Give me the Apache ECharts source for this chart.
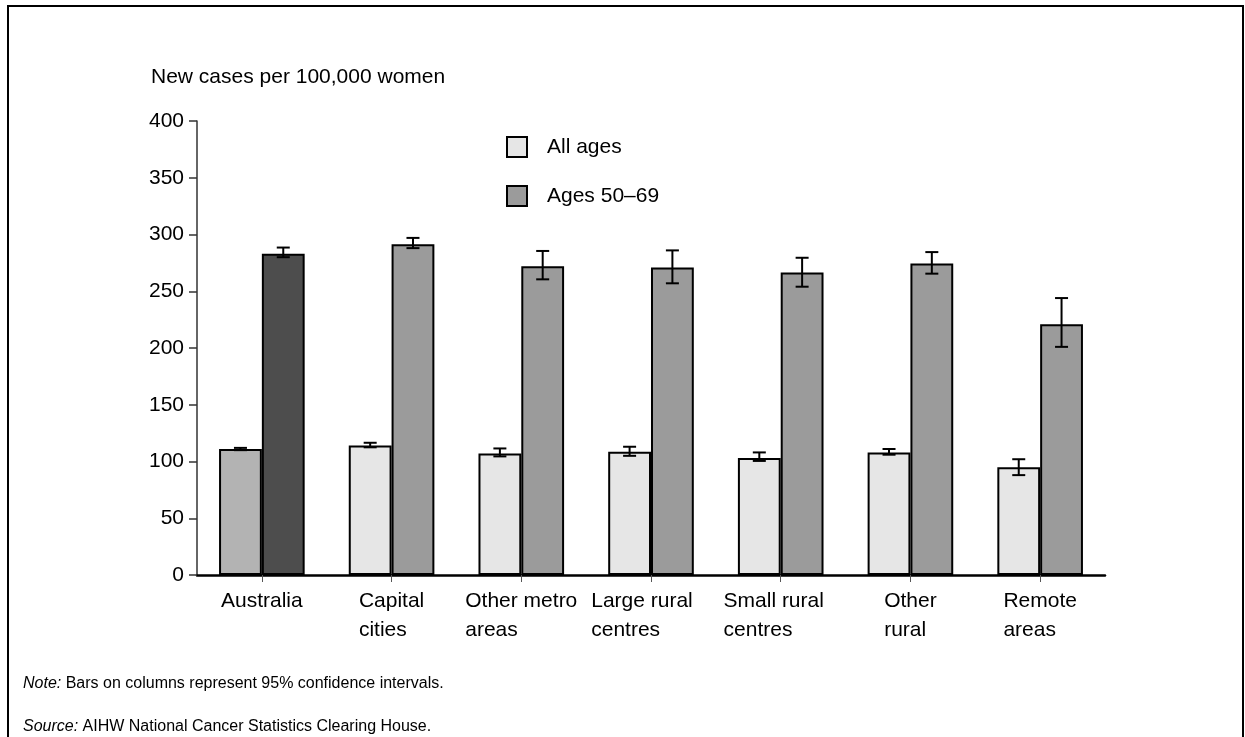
<!DOCTYPE html>
<html>
<head>
<meta charset="utf-8">
<script src="https://cdn.jsdelivr.net/npm/echarts@6/dist/echarts.min.js"></script>
<style>
html,body{margin:0;padding:0;background:#fff;}
#chart{width:1245px;height:737px;}
</style>
</head>
<body>
<div id="chart"></div>
<script>
const categories = ['Australia', 'Capital\ncities', 'Other metro\nareas', 'Large rural\ncentres', 'Small rural\ncentres', 'Other\nrural', 'Remote\nareas'];
const allAges = [111, 114, 107, 108.5, 103, 108, 95];
const allAgesLow = [110, 112.5, 104.5, 105, 100.5, 106, 88];
const allAgesHigh = [112, 116.5, 111.5, 113, 108, 111, 102];
const ages5069 = [283, 291.5, 272, 271, 266.5, 274.5, 221];
const ages5069Low = [280, 288, 260.5, 257, 254, 265.5, 201];
const ages5069High = [288.5, 297, 285.5, 286, 279.5, 284.5, 244];
const yTicks = [0, 50, 100, 150, 200, 250, 300, 350, 400];

const FONT = '"Liberation Sans", Arial, sans-serif';
const BAND_FRAC = 0.66;
// small per-label horizontal nudges (rich style names), layout only
const labelStyleByIndex = { 3: 'b', 4: 'c' };

function errorSeries(low, high, side) {
  return {
    type: 'custom',
    data: categories.map((c, i) => [i, low[i], high[i]]),
    encode: { x: 0, y: [1, 2] },
    z: 5,
    silent: true,
    renderItem: function (params, api) {
      const idx = api.value(0);
      const band = api.size([1, 0])[0];
      const off = side * band * BAND_FRAC / 4;
      const lo = api.coord([idx, api.value(1)]);
      const hi = api.coord([idx, api.value(2)]);
      const x = lo[0] + off;
      const cap = 6.5;
      const st = { stroke: '#000', lineWidth: 2, fill: null };
      return {
        type: 'group',
        children: [
          { type: 'line', shape: { x1: x, y1: lo[1], x2: x, y2: hi[1] }, style: st },
          { type: 'line', shape: { x1: x - cap, y1: lo[1], x2: x + cap, y2: lo[1] }, style: st },
          { type: 'line', shape: { x1: x - cap, y1: hi[1], x2: x + cap, y2: hi[1] }, style: st }
        ]
      };
    }
  };
}

const labelRichBase = { align: 'left', fontFamily: FONT, fontSize: 21, lineHeight: 29, color: '#000' };

const chart = echarts.init(document.getElementById('chart'), null, { renderer: 'canvas' });
chart.setOption({
  animation: false,
  backgroundColor: '#fff',
  textStyle: { fontFamily: FONT },
  graphic: [
    { type: 'polyline', shape: { points: [[8, 760], [8, 6], [1243, 6], [1243, 760]] }, style: { stroke: '#000', lineWidth: 2, fill: null }, silent: true }
  ],
  title: [
    { text: 'New cases per 100,000 women', left: 146, top: 62, textStyle: { fontFamily: FONT, fontSize: 21, fontWeight: 'normal', color: '#000' } },
    { text: '{i|Note:} Bars on columns represent 95% confidence intervals.', left: 18, top: 671,
      textStyle: { fontFamily: FONT, fontSize: 16, fontWeight: 'normal', color: '#000', rich: { i: { fontStyle: 'italic', fontFamily: FONT, fontSize: 16, color: '#000' } } } },
    { text: '{i|Source:} AIHW National Cancer Statistics Clearing House.', left: 18, top: 714,
      textStyle: { fontFamily: FONT, fontSize: 16, fontWeight: 'normal', color: '#000', rich: { i: { fontStyle: 'italic', fontFamily: FONT, fontSize: 16, color: '#000' } } } }
  ],
  legend: {
    data: ['All ages', 'Ages 50–69'],
    orient: 'vertical',
    left: 506,
    top: 136,
    padding: 0,
    itemWidth: 20,
    itemHeight: 20,
    itemGap: 27,
    icon: 'rect',
    textStyle: { fontFamily: FONT, fontSize: 21, color: '#000', padding: [0, 0, 0, 15] },
    selectedMode: false
  },
  grid: { left: 197, right: 140, top: 121, bottom: 162, containLabel: false },
  xAxis: {
    type: 'category',
    data: categories,
    axisLine: { show: true, lineStyle: { color: '#000', width: 2.5 } },
    axisTick: { show: true, alignWithLabel: true, length: 7, lineStyle: { color: '#555', width: 1 } },
    axisLabel: {
      interval: 0,
      margin: 12,
      color: '#000',
      fontFamily: FONT,
      fontSize: 21,
      lineHeight: 29,
      formatter: function (v, i) {
        const s = labelStyleByIndex[i] || 'a';
        return v.split('\n').map(function (l) { return '{' + s + '|' + l + '}'; }).join('\n');
      },
      rich: {
        a: Object.assign({}, labelRichBase),
        b: Object.assign({}, labelRichBase, { padding: [0, 18, 0, 0] }),
        c: Object.assign({}, labelRichBase, { padding: [0, 14, 0, 0] })
      }
    }
  },
  yAxis: {
    type: 'value',
    min: 0,
    max: 400,
    interval: 50,
    axisLine: { show: true, lineStyle: { color: '#333', width: 1.5 } },
    axisTick: { show: true, length: 8, lineStyle: { color: '#333', width: 1.5 } },
    axisLabel: { color: '#000', fontFamily: FONT, fontSize: 21, margin: 13, formatter: function (v) { return yTicks.indexOf(v) >= 0 ? String(v) : ''; } },
    splitLine: { show: false }
  },
  series: [
    {
      name: 'All ages',
      type: 'bar',
      barGap: '0%',
      barCategoryGap: '34%',
      itemStyle: { color: '#e6e6e6', borderColor: '#000', borderWidth: 2 },
      data: allAges.map((v, i) => i === 0 ? { value: v, itemStyle: { color: '#b3b3b3' } } : v)
    },
    {
      name: 'Ages 50–69',
      type: 'bar',
      barGap: '0%',
      barCategoryGap: '34%',
      itemStyle: { color: '#9b9b9b', borderColor: '#000', borderWidth: 2 },
      data: ages5069.map((v, i) => i === 0 ? { value: v, itemStyle: { color: '#4d4d4d' } } : v)
    },
    errorSeries(allAgesLow, allAgesHigh, -1),
    errorSeries(ages5069Low, ages5069High, 1)
  ]
});
</script>
</body>
</html>
